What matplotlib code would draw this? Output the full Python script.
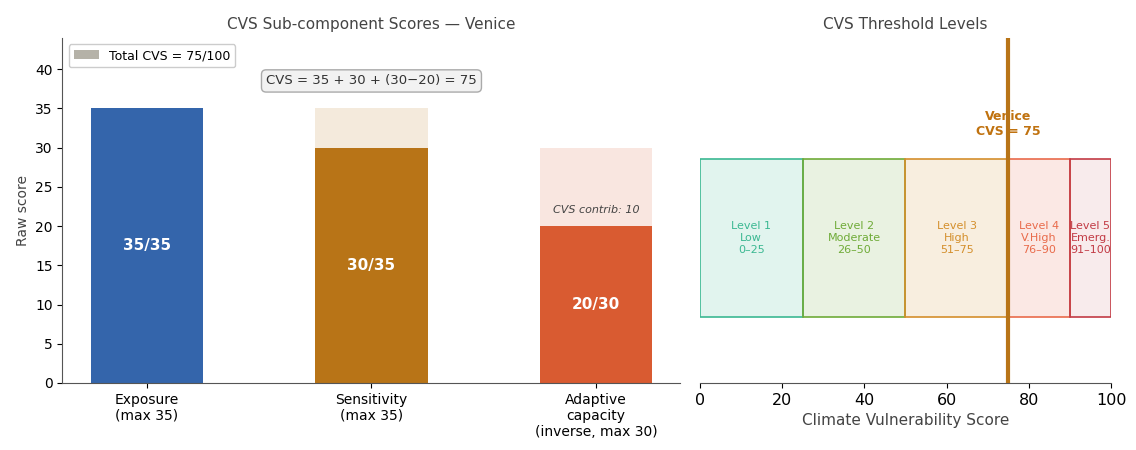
import matplotlib

matplotlib.use("Agg")

import matplotlib.pyplot as plt
from matplotlib.patches import Patch, Rectangle

# sub-component scores
components = ["Exposure\n(max 35)", "Sensitivity\n(max 35)", "Adaptive\ncapacity\n(inverse, max 30)"]
scores = [35, 30, 20]
max_scores = [35, 35, 30]
comp_colors = ["#3465ab", "#b87417", "#d95b31"]
total_cvs = 75
adaptive_contrib = 10

# threshold levels
level_starts = [0, 25, 50, 75, 90]
level_ends = [25, 50, 75, 90, 100]
level_labels = ["Level 1\nLow\n0\u201325", "Level 2\nModerate\n26\u201350",
                "Level 3\nHigh\n51\u201375", "Level 4\nV.High\n76\u201390",
                "Level 5\nEmerg.\n91\u2013100"]
level_colors = ["#3bb892", "#6fab38", "#d48f2c", "#e96b4b", "#c23b45"]
level_fill_alpha = [0.15, 0.15, 0.15, 0.15, 0.1]
city = "Venice"

fig = plt.figure(figsize=(11.36, 4.5), dpi=100)
ax = fig.add_axes([0.055, 0.149, 0.544, 0.767])
ax2 = fig.add_axes([0.616, 0.149, 0.362, 0.767])

x = list(range(len(components)))
ax.bar(x, max_scores, width=0.5, color=comp_colors, alpha=0.15, zorder=1)
ax.bar(x, scores, width=0.5, color=comp_colors, zorder=2)
for xi, s, m in zip(x, scores, max_scores):
    ax.text(xi, s / 2, f"{s}/{m}", ha="center", va="center", color="white",
            fontsize=11, fontweight="bold", zorder=3)
ax.text(2, scores[2] + 2, f"CVS contrib: {adaptive_contrib}", ha="center", va="center",
        fontsize=8, style="italic", color="#444444")
ax.text(1, 38.5, f"CVS = {scores[0]} + {scores[1]} + ({max_scores[2]}\u2212{scores[2]}) = {total_cvs}",
        ha="center", va="center", fontsize=9.5, color="#333333",
        bbox=dict(boxstyle="round,pad=0.35", facecolor="#f2f2f2", edgecolor="#aaaaaa"))
ax.legend(handles=[Patch(facecolor="#b5b2a8", label=f"Total CVS = {total_cvs}/100")],
          loc="upper left", fontsize=9, framealpha=1, edgecolor="#cccccc")
ax.set_xticks(x)
ax.set_xticklabels(components, fontsize=10)
ax.set_ylim(0, 44)
ax.set_ylabel("Raw score", fontsize=10, color="#444444")
ax.set_title(f"CVS Sub-component Scores \u2014 {city}", fontsize=11, color="#444444")
ax.tick_params(axis="y", labelsize=10)
for sp in ["top", "right"]:
    ax.spines[sp].set_visible(False)
ax.spines["left"].set_color("#555555")
ax.spines["bottom"].set_color("#555555")

for x0, x1, lab, c, a in zip(level_starts, level_ends, level_labels, level_colors, level_fill_alpha):
    ax2.add_patch(Rectangle((x0, 0.19), x1 - x0, 0.46, facecolor=c, alpha=a, zorder=1))
    ax2.add_patch(Rectangle((x0, 0.19), x1 - x0, 0.46, facecolor="none", edgecolor=c,
                            linewidth=1.2, zorder=2))
    ax2.text((x0 + x1) / 2, 0.42, lab, ha="center", va="center", fontsize=8, color=c,
             linespacing=1.2, zorder=3)
ax2.axvline(total_cvs, color="#b87417", linewidth=3, zorder=4)
ax2.text(total_cvs, 0.75, f"{city}\nCVS = {total_cvs}", ha="center", va="center",
         fontsize=9, fontweight="bold", color="#c0720f", zorder=3)
ax2.set_xlim(0, 100)
ax2.set_ylim(0, 1)
ax2.set_yticks([])
ax2.set_xlabel("Climate Vulnerability Score", fontsize=11, color="#444444")
ax2.set_title("CVS Threshold Levels", fontsize=11, color="#444444")
ax2.tick_params(axis="x", labelsize=11.5)
for sp in ["top", "right", "left"]:
    ax2.spines[sp].set_visible(False)
ax2.spines["bottom"].set_color("#555555")

fig.savefig("out.png", dpi=100)
